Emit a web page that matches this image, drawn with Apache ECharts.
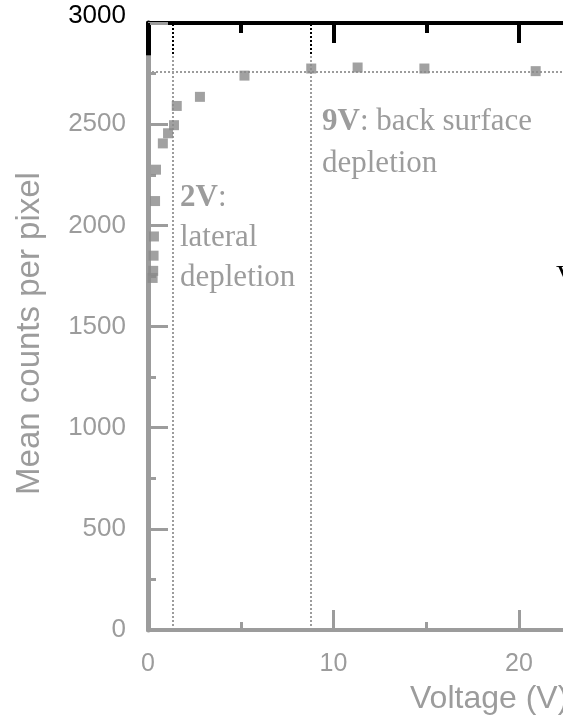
<!DOCTYPE html>
<html>
<head>
<meta charset="utf-8">
<script src="https://cdn.jsdelivr.net/npm/echarts@6/dist/echarts.min.js"></script>
<style>
html,body{margin:0;padding:0;background:#fff;}
#chart{width:563px;height:716px;}
</style>
</head>
<body>
<div id="chart"></div>
<script>
// ---- data ----
const voltage = [0.25, 0.28, 0.3, 0.32, 0.38, 0.43, 0.8, 1.08, 1.4, 1.55, 2.8, 5.2, 8.8, 11.3, 14.9, 20.9];
const meanCounts = [1740, 1775, 1850, 1945, 2120, 2275, 2405, 2455, 2495, 2590, 2635, 2740, 2775, 2780, 2775, 2762];
const depletionVoltages = [1.35, 8.8];
const plateauLevel = [2760];
const yTicks = [0, 500, 1000, 1500, 2000, 2500, 3000];
const xLabel = 'Voltage (V)';
const yLabel = 'Mean counts per pixel';
const noteLateral = '{b|2V}:\nlateral\ndepletion';
const noteBack = '{b|9V}: back surface\ndepletion';

const GRAY = '#9c9c9c';
const chart = echarts.init(document.getElementById('chart'), null, {renderer: 'canvas'});

const grad = (yBlackEnd) => new echarts.graphic.LinearGradient(0, 0, 0, 716, [
  {offset: 0, color: '#000'},
  {offset: yBlackEnd / 716, color: '#000'},
  {offset: yBlackEnd / 716 + 0.001, color: GRAY},
  {offset: 1, color: GRAY}
], true);

const pts = voltage.map((v, i) => [v, meanCounts[i]]);

chart.setOption({
  animation: false,
  backgroundColor: '#fff',
  grid: {left: 148, top: 23, width: 556.5, height: 607, containLabel: false, outerBoundsMode: 'none'},
  xAxis: [{
    type: 'value', position: 'bottom', min: 0, max: 30, interval: 10,
    axisLine: {show: true, onZero: false, lineStyle: {color: GRAY, width: 4}},
    axisTick: {show: true, inside: true, length: 20, lineStyle: {color: GRAY, width: 3}},
    minorTick: {show: true, splitNumber: 2, length: 8, lineStyle: {color: GRAY, width: 3}},
    splitLine: {show: false},
    axisLabel: {color: GRAY, fontSize: 25, fontFamily: 'Liberation Sans, Arial', margin: 22, showMaxLabel: false}
  }, {
    type: 'value', position: 'top', min: 0, max: 30, interval: 10,
    axisLine: {show: true, onZero: false, lineStyle: {color: '#000', width: 4}},
    axisTick: {show: true, inside: true, length: 20, lineStyle: {color: '#000', width: 4}},
    minorTick: {show: true, splitNumber: 2, length: 10, lineStyle: {color: '#000', width: 4}},
    splitLine: {show: false},
    axisLabel: {show: false}
  }],
  yAxis: {
    type: 'value', min: yTicks[0], max: yTicks[yTicks.length - 1], interval: 500,
    name: yLabel, nameLocation: 'middle', nameGap: 102, nameRotate: 90,
    nameTextStyle: {color: GRAY, fontSize: 33, fontFamily: 'Liberation Sans, Arial', padding: [0, 14, 0, 0]},
    axisLine: {show: true, onZero: false, lineStyle: {color: grad(55), width: 5}},
    axisTick: {show: true, inside: true, length: 20, lineStyle: {color: GRAY, width: 3}},
    minorTick: {show: true, splitNumber: 2, length: 8, lineStyle: {color: GRAY, width: 3}},
    splitLine: {show: false},
    axisLabel: {
      color: GRAY, fontSize: 26, fontFamily: 'Liberation Sans, Arial', margin: 22,
      formatter: v => v === 3000 ? '{top|3000}' : String(v),
      rich: {top: {color: '#000', fontSize: 26, fontFamily: 'Liberation Sans, Arial', padding: [0, 0, 14, 0]}}
    }
  },
  series: [{
    type: 'scatter',
    data: pts,
    symbol: 'rect',
    symbolSize: 10,
    itemStyle: {color: '#8a8a8a'},
    silent: true,
    z: 5,
    markLine: {
      silent: true,
      symbol: 'none',
      label: {show: false},
      animation: false,
      data: [
        ...depletionVoltages.map(v => ({xAxis: v, lineStyle: {color: grad(55), type: 'dotted', width: 2}})),
        ...plateauLevel.map(v => ({yAxis: v, lineStyle: {color: GRAY, type: 'dotted', width: 2}}))
      ]
    }
  }],
  graphic: [
    {type: 'text', left: 180, top: 178, silent: true,
     style: {text: noteLateral, fill: GRAY, font: '31px "Liberation Serif", serif', lineHeight: 40,
             rich: {b: {fontWeight: 'bold', fill: GRAY, fontSize: 31, fontFamily: 'Liberation Serif', lineHeight: 40}}}},
    {type: 'text', left: 322, top: 101, silent: true,
     style: {text: noteBack, fill: GRAY, font: '31px "Liberation Serif", serif', lineHeight: 42,
             rich: {b: {fontWeight: 'bold', fill: GRAY, fontSize: 31, fontFamily: 'Liberation Serif', lineHeight: 42}}}},
    {type: 'text', left: 410, top: 683, silent: true,
     style: {text: xLabel, fill: GRAY, font: '32px "Liberation Sans", Arial'}},
    {type: 'text', left: 556, top: 262, silent: true,
     style: {text: 'V', fill: '#000', font: '30px "Liberation Serif", serif'}}
  ]
});
</script>
</body>
</html>
